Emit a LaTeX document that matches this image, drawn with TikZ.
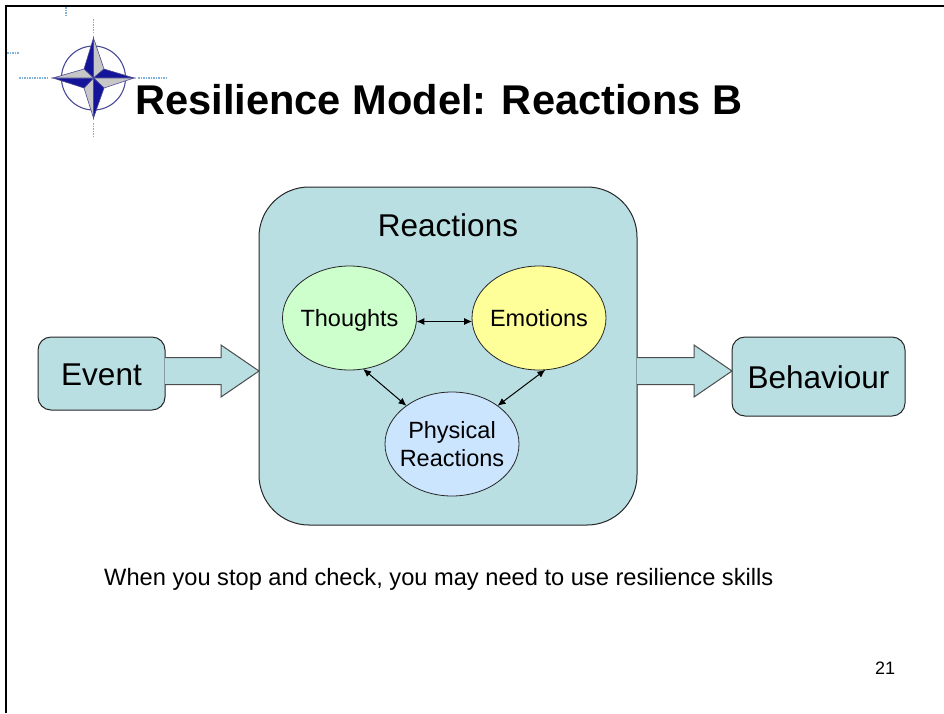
\documentclass[tikz,border=0pt]{standalone}
\usepackage{fontspec}
\setmainfont{Liberation Sans}
\usetikzlibrary{shapes.geometric, calc, arrows.meta}
\definecolor{boxteal}{HTML}{B9DFE3}
\definecolor{thoughtgreen}{HTML}{CCFFCC}
\definecolor{emotionyellow}{HTML}{FFFF99}
\definecolor{physicalblue}{HTML}{CCE5FF}
\definecolor{stardark}{HTML}{14149A}
\definecolor{ringblue}{HTML}{4A4A96}
\definecolor{tickblue}{HTML}{7FB2DC}
\begin{document}
\begin{tikzpicture}[x=1pt, y=-1pt,
    panel/.style={draw=black!85, fill=boxteal, rectangle, inner sep=0pt, outer sep=0pt, line width=1pt},
    bubble/.style={draw=black!85, ellipse, inner ysep=0pt, inner xsep=-25pt, outer sep=0pt, minimum width=134pt, minimum height=104pt, align=center, font=\fontsize{23.5}{28}\selectfont, line width=0.8pt},
    oneline/.style={text height=17pt, text depth=0pt},
    link/.style={{Latex[length=8pt, width=7pt]}-{Latex[length=8pt, width=7pt]}, line width=1pt},
    bigarrow/.style={draw=black!70, fill=boxteal, line width=1pt, to path={let \p1=(\tikztostart), \p2=(\tikztotarget) in
        (\x1, \y1+13.5pt) -- (\x2-38pt, \y1+13.5pt) -- (\x2-38pt, \y1+26pt) -- (\x2, \y1)
        -- (\x2-38pt, \y1-26pt) -- (\x2-38pt, \y1-13.5pt) -- (\x1, \y1-13.5pt)}},
    tick/.style={tickblue, line width=1.5pt, densely dotted},
    starblue/.style={fill=stardark, draw=ringblue, line width=0.6pt},
    stargrey/.style={fill=black!22, draw=ringblue, line width=0.6pt}]
    \useasboundingbox (0, 0) rectangle (944, 713);
    \fill[white] (0, 0) rectangle (944, 713);
    \draw[line width=2pt] (6, 713) -- (6, 6) -- (944, 6);

    % logo
    \draw[tick] (66, 7) -- (66, 17);
    \draw[tick] (7, 53) -- (19, 53);
    \draw[tick] (93.5, 19) -- (93.5, 33);
    \draw[tick] (93.5, 123) -- (93.5, 137);
    \draw[tick] (19, 78) -- (49, 78);
    \draw[tick] (138, 78) -- (167, 78);
    \draw[ringblue, line width=1.1pt] (93.5, 78) circle (32);
    \draw[starblue] (93.5, 38) -- (84, 69) -- (93.5, 78) -- cycle;
    \draw[stargrey] (93.5, 38) -- (104, 69) -- (93.5, 78) -- cycle;
    \draw[starblue] (134, 78) -- (104, 69) -- (93.5, 78) -- cycle;
    \draw[stargrey] (134, 78) -- (104, 88) -- (93.5, 78) -- cycle;
    \draw[starblue] (93.5, 118) -- (104, 88) -- (93.5, 78) -- cycle;
    \draw[stargrey] (93.5, 118) -- (84, 88) -- (93.5, 78) -- cycle;
    \draw[starblue] (53, 78) -- (84, 88) -- (93.5, 78) -- cycle;
    \draw[stargrey] (53, 78) -- (84, 69) -- (93.5, 78) -- cycle;

    \node[font=\fontsize{41.6}{48}\bfseries\selectfont, anchor=base west, inner sep=0pt] (title) at (135, 114) {Resilience Model: Reactions B};

    \node[panel, minimum width=378pt, minimum height=338pt, rounded corners=50pt] (reactions) at (448, 356) {};
    \node[panel, minimum width=127pt, minimum height=73pt, rounded corners=13pt, font=\fontsize{31.5}{36}\selectfont, text height=23pt, text depth=0pt] (event) at (101.5, 373.5) {Event};
    \node[panel, minimum width=173pt, minimum height=79pt, rounded corners=13pt, font=\fontsize{31.5}{36}\selectfont, text height=23pt, text depth=0pt] (behaviour) at (818.5, 376.5) {Behaviour};
    \coordinate (midline) at (0, 371);
    \draw[bigarrow] (event.east |- midline) to (reactions.west |- midline);
    \draw[bigarrow] (reactions.east |- midline) to (behaviour.west |- midline);

    \node[font=\fontsize{31.5}{36}\selectfont, inner sep=0pt] (reactionslabel) at (448, 225) {Reactions};
    \node[bubble, oneline, fill=thoughtgreen] (thoughts) at (349.5, 318) {Thoughts};
    \node[bubble, oneline, fill=emotionyellow] (emotions) at (539, 318) {Emotions};
    \node[bubble, fill=physicalblue] (physical) at (452, 444) {Physical\\Reactions};

    \draw[link] (thoughts.-3) -- (emotions.183);
    \draw[link] (thoughts.-75) -- (physical.140);
    \draw[link] (emotions.-83) -- (physical.40);

    \node[font=\fontsize{23.65}{28}\selectfont, anchor=base west, inner sep=0pt] (note) at (104, 585) {When you stop and check, you may need to use resilience skills};
    \node[font=\fontsize{18}{22}\selectfont, anchor=base west, inner sep=0pt] (pagenum) at (875, 674) {21};
\end{tikzpicture}
\end{document}
